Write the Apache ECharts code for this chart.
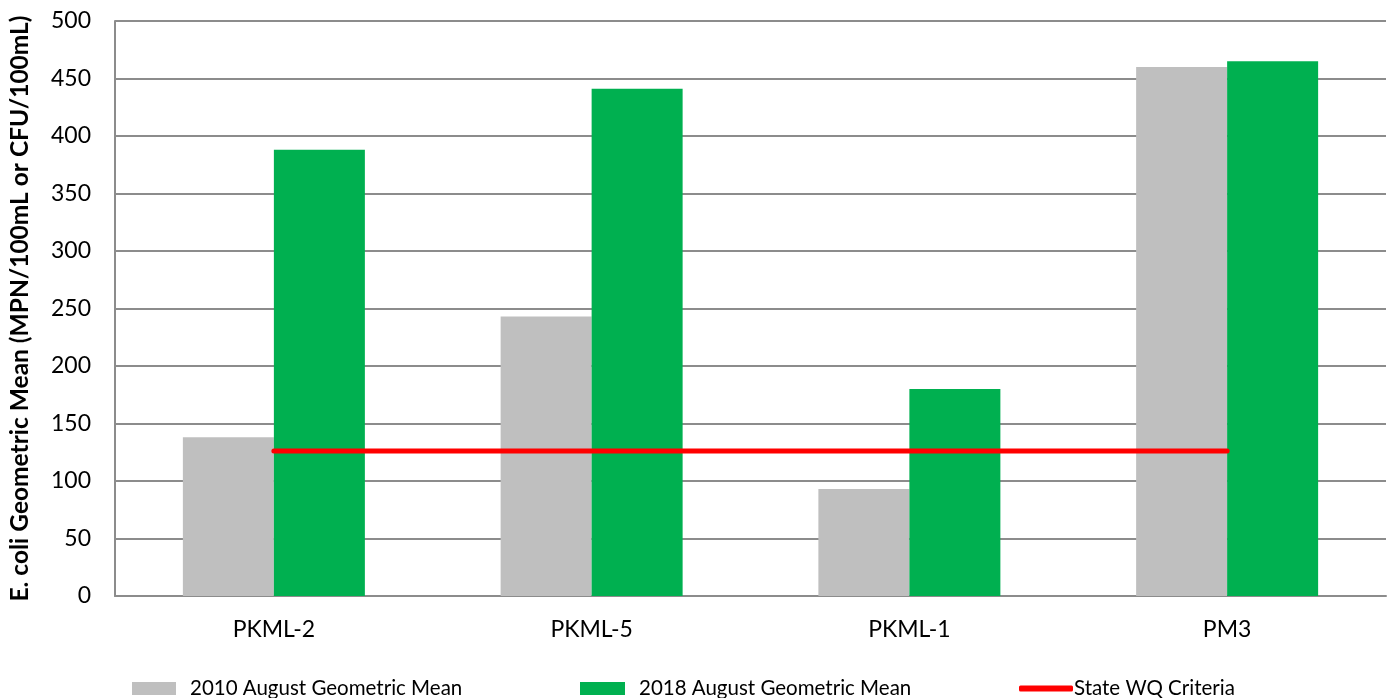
<!DOCTYPE html>
<html>
<head>
<meta charset="utf-8">
<script src="https://cdn.jsdelivr.net/npm/echarts@6/dist/echarts.min.js"></script>
<style>
  html, body { margin: 0; padding: 0; background: #fff; }
  #chart { width: 1395px; height: 698px; }
</style>
</head>
<body>
<div id="chart"></div>
<script>
// Sampling sites and August geometric means of E. coli
const sites = ['PKML-2', 'PKML-5', 'PKML-1', 'PM3'];
const mean2010 = [138, 243, 93, 460];
const mean2018 = [388, 441, 180, 465];
const stateCriteria = [126, 126, 126, 126];
const yTicks = { min: 0, max: 500, interval: 50 };

const FONT = 'Lato, "Open Sans", sans-serif';
const axisGray = '#8c8c8c';

const chart = echarts.init(document.getElementById('chart'), null, { renderer: 'canvas' });

const legendText = { fontFamily: FONT, fontSize: 20.5, color: '#000', padding: [0, 0, 0, 9] };

chart.setOption({
  animation: false,
  backgroundColor: '#fff',
  grid: { left: 111, right: 9, top: 21, bottom: 102, containLabel: false },
  legend: [
    {
      data: [{ name: '2010 August Geometric Mean', icon: 'rect' }],
      left: 127, top: 673,
      itemWidth: 44, itemHeight: 13,
      textStyle: legendText
    },
    {
      data: [{ name: '2018 August Geometric Mean', icon: 'rect' }],
      left: 575, top: 673,
      itemWidth: 45, itemHeight: 13,
      textStyle: legendText
    },
    {
      data: [{ name: 'State WQ Criteria', icon: 'roundRect' }],
      left: 1014, top: 673,
      itemWidth: 54, itemHeight: 6,
      textStyle: Object.assign({}, legendText, { padding: [0, 0, 0, -4] })
    }
  ],
  xAxis: {
    type: 'category',
    data: sites,
    boundaryGap: true,
    axisLine: { show: true, lineStyle: { color: axisGray, width: 2 } },
    axisTick: { show: false },
    axisLabel: { fontFamily: FONT, fontSize: 23, color: '#000', margin: 22 }
  },
  yAxis: {
    type: 'value',
    min: yTicks.min, max: yTicks.max, interval: yTicks.interval,
    name: 'E. coli Geometric Mean (MPN/100mL or CFU/100mL)',
    nameLocation: 'middle',
    nameGap: 82,
    nameTextStyle: { fontFamily: FONT, fontSize: 24.5, fontWeight: 'bold', color: '#000' },
    axisLine: { show: true, lineStyle: { color: axisGray, width: 2 } },
    axisTick: { show: false },
    axisLabel: { fontFamily: FONT, fontSize: 23, color: '#000', margin: 24 },
    splitLine: { show: true, lineStyle: { color: axisGray, width: 2 } }
  },
  series: [
    {
      name: '2010 August Geometric Mean',
      type: 'bar',
      data: mean2010,
      barWidth: 91,
      barGap: '0%',
      itemStyle: { color: '#bfbfbf' }
    },
    {
      name: '2018 August Geometric Mean',
      type: 'bar',
      data: mean2018,
      barWidth: 91,
      barGap: '0%',
      itemStyle: { color: '#00b050' }
    },
    {
      name: 'State WQ Criteria',
      type: 'line',
      data: stateCriteria,
      symbol: 'none',
      lineStyle: { color: '#ff0000', width: 5, cap: 'round' },
      itemStyle: { color: '#ff0000' },
      z: 5
    }
  ]
});
</script>
</body>
</html>
